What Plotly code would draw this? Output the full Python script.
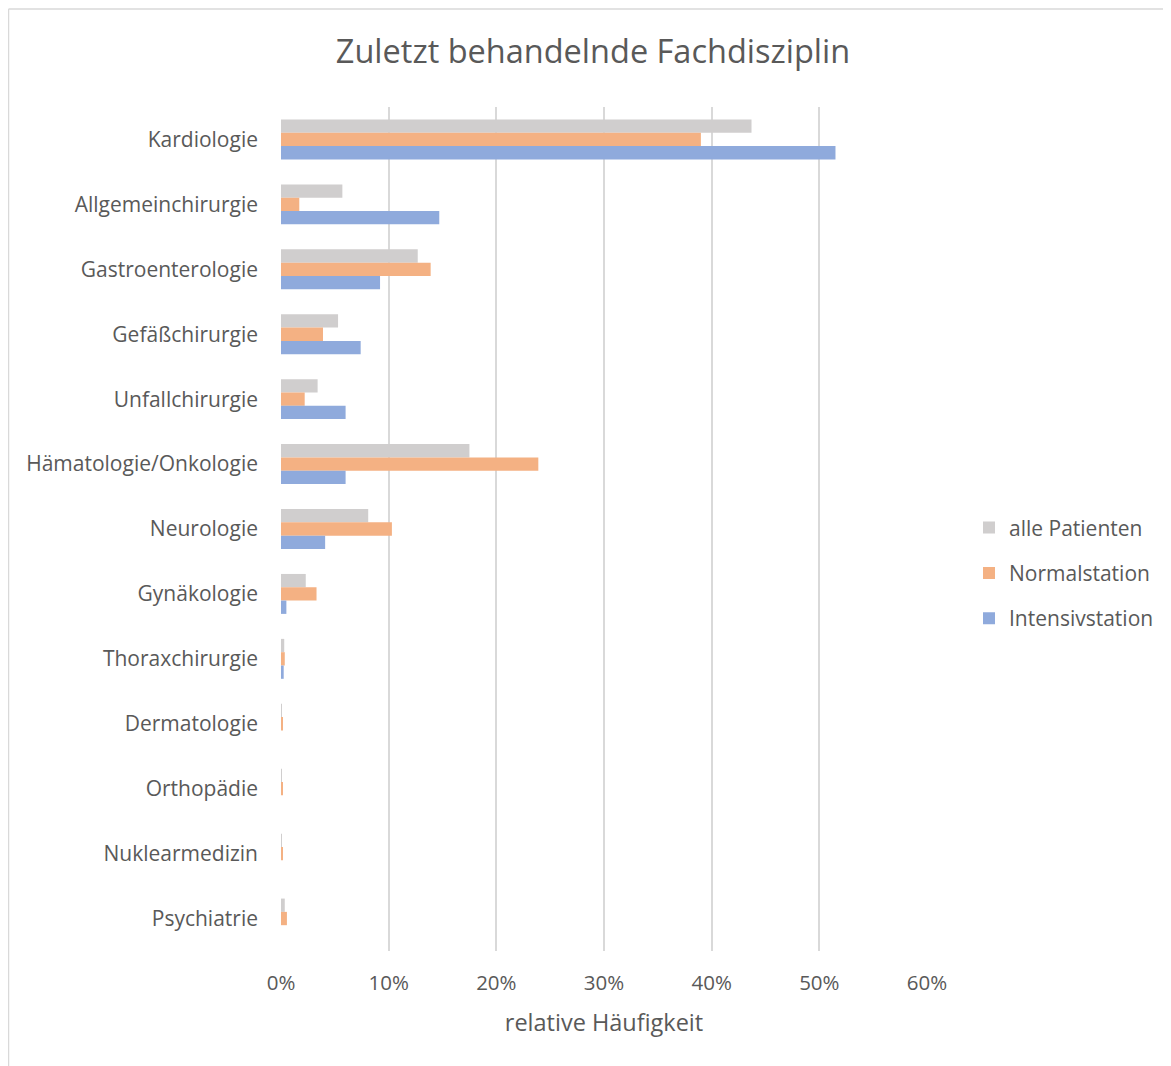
import plotly.graph_objects as go

categories = ["Kardiologie", "Allgemeinchirurgie", "Gastroenterologie", "Gefäßchirurgie",
              "Unfallchirurgie", "Hämatologie/Onkologie", "Neurologie", "Gynäkologie",
              "Thoraxchirurgie", "Dermatologie", "Orthopädie", "Nuklearmedizin", "Psychiatrie"]
alle_patienten = [43.7, 5.7, 12.7, 5.3, 3.4, 17.5, 8.1, 2.3, 0.3, 0.05, 0.05, 0.05, 0.35]
normalstation = [39.0, 1.7, 13.9, 3.9, 2.2, 23.9, 10.3, 3.3, 0.35, 0.1, 0.1, 0.1, 0.55]
intensivstation = [51.5, 14.7, 9.2, 7.4, 6.0, 6.0, 4.1, 0.5, 0.25, 0.0, 0.0, 0.0, 0.0]
x_ticks = [0, 10, 20, 30, 40, 50, 60]
x_tick_labels = ["0%", "10%", "20%", "30%", "40%", "50%", "60%"]

FONT = "Open Sans"
TXT = "#595959"

W, H = 1163, 1058
L, T = 273, 98.5
PW, PH = 646, 845
R = W - L - PW
B = H - T - PH

fig = go.Figure()
series = [("alle Patienten", alle_patienten, "#D0CECE"),
          ("Normalstation", normalstation, "#F4B183"),
          ("Intensivstation", intensivstation, "#8FAADC")]
for i, (name, vals, col) in enumerate(series):
    fig.add_trace(go.Bar(y=categories, x=vals, name=name, orientation="h",
                         marker=dict(color=col, line=dict(width=0)),
                         legendgroup=f"g{i}"))

def px(xf):
    return (xf - L) / PW

def py(yf):
    return (T + PH - yf) / PH

fig.update_layout(
    width=W, height=H,
    margin=dict(l=L, r=R, t=T, b=B, autoexpand=False),
    paper_bgcolor="white", plot_bgcolor="white",
    barmode="group", bargap=0.385, bargroupgap=0,
    title=dict(text="Zuletzt behandelnde Fachdisziplin", x=px(585), xref="paper",
               xanchor="center", y=1 - 44 / H, yanchor="middle",
               font=dict(family=FONT, size=32.5, color=TXT)),
    font=dict(family=FONT, color=TXT),
    legend=dict(x=px(961), xanchor="left", y=py(565), yanchor="middle",
                font=dict(family=FONT, size=21, color=TXT), tracegroupgap=15,
                bgcolor="rgba(0,0,0,0)"),
    xaxis=dict(range=[0, 60], tickvals=x_ticks, ticktext=x_tick_labels,
               showgrid=True, gridcolor="#D9D9D9", gridwidth=2, zeroline=False,
               showline=False, ticks="", ticklabelstandoff=17,
               tickfont=dict(family=FONT, size=20.5, color=TXT),
               title=dict(text="relative Häufigkeit", font=dict(family=FONT, size=23.5, color=TXT),
                          standoff=20)),
    yaxis=dict(autorange="reversed", showgrid=False, zeroline=False, showline=False,
               ticks="", ticklabelstandoff=22,
               tickfont=dict(family=FONT, size=21, color=TXT)),
    shapes=[
        dict(type="line", xref="paper", yref="paper", x0=px(0.5), x1=px(W + 10),
             y0=py(0.5), y1=py(0.5), line=dict(color="#D9D9D9", width=1.5)),
        dict(type="line", xref="paper", yref="paper", x0=px(0.5), x1=px(0.5),
             y0=py(0.5), y1=py(H + 10), line=dict(color="#D9D9D9", width=1.5)),
    ],
)

fig.write_html("out.html")
